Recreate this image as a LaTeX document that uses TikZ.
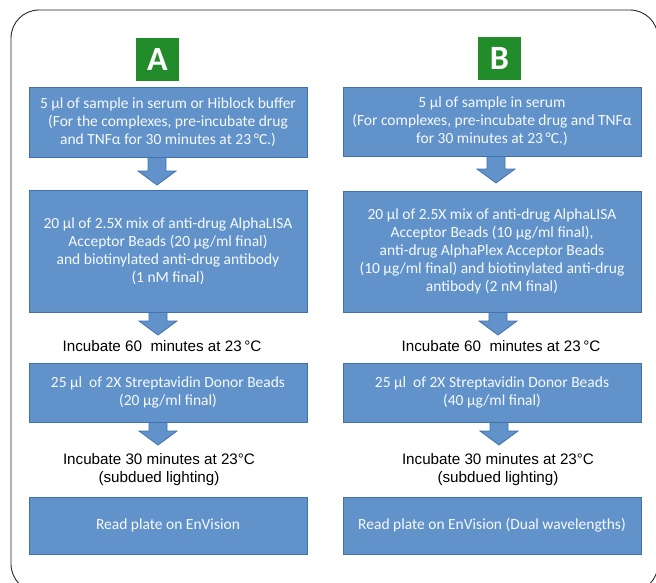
\documentclass[tikz,border=0pt]{standalone}
\usepackage{fontspec}
\setmainfont{Carlito}
\newfontfamily\arialfont{Liberation Sans}
\usetikzlibrary{calc}

\definecolor{stepblue}{RGB}{97,146,202}
\definecolor{stepedge}{RGB}{66,114,172}
\definecolor{labelgreen}{RGB}{34,139,42}

% block arrow from a point on a box to a tip coordinate
\newcommand{\flowarrow}[2]{%
	\draw[flowarrow] let \p1=(#1), \p2=(#2) in
		(\x1-9pt,\y1) -- (\x1+9pt,\y1) -- (\x1+9pt,\y2+14pt) -- (\x1+19pt,\y2+14pt)
		-- (\x2,\y2) -- (\x1-19pt,\y2+14pt) -- (\x1-9pt,\y2+14pt) -- cycle;}

\begin{document}
\begin{tikzpicture}[x=1pt,y=-1pt,
	stepbox/.style={draw=stepedge,line width=1pt,fill=stepblue,text=white!95!stepblue,align=center,
		inner sep=0pt,font=\fontsize{15.5}{18}\selectfont},
	colA/.style={stepbox,minimum width=278pt},
	colB/.style={stepbox,minimum width=298pt},
	letterbox/.style={fill=labelgreen,text=white,minimum width=43pt,minimum height=43pt,
		inner sep=0pt,font=\fontsize{34}{34}\selectfont\bfseries},
	flowarrow/.style={fill=stepblue,draw=stepedge,line width=0.8pt},
	plainstep/.style={align=center,inner sep=0pt,font=\arialfont\fontsize{15.2}{18}\selectfont}]
	\useasboundingbox (0,0) rectangle (656,582);
	\clip (0,0) rectangle (656,582);
	% outer frame
	\draw[black!85,line width=0.9pt,rounded corners=28pt] (11,10) rectangle (658,592);
	% column A
	\node[letterbox] (labA) at (157.5,59.5) {A};
	\node[colA,minimum height=70pt] (boxA1) at (168,122) {5 µl of sample in serum or Hiblock buffer\\(For the complexes, pre-incubate drug\\and TNFα for 30 minutes at 23\,°C.)};
	\node[colA,minimum height=122pt] (boxA2) at (168,251) {20 µl of 2.5X mix of anti-drug AlphaLISA\\Acceptor Beads (20 µg/ml final)\\and biotinylated anti-drug antibody\\(1 nM final)};
	\node[plainstep] (incA1) at (162,346) {Incubate 60 \ minutes at 23\,°C};
	\node[colA,minimum height=59pt] (boxA3) at (168,392.5) {25 µl \ of 2X Streptavidin Donor Beads\\(20 µg/ml final)};
	\node[plainstep] (incA2) at (159,470) {Incubate 30 minutes at 23°C\\(subdued lighting)};
	\node[colA,minimum height=57pt] (boxA4) at (168,525.5) {Read plate on EnVision};
	\coordinate (tipA1) at (157,185);
	\coordinate (tipA2) at (158,335);
	\coordinate (tipA3) at (158,445);
	\flowarrow{boxA1.south -| tipA1}{tipA1}
	\flowarrow{boxA2.south -| tipA2}{tipA2}
	\flowarrow{boxA3.south -| tipA3}{tipA3}
	% column B
	\node[letterbox] (labB) at (499.5,58.5) {B};
	\node[colB,minimum height=69pt] (boxB1) at (492,121.5) {5 µl of sample in serum\\(For complexes, pre-incubate drug and TNFα\\for 30 minutes at 23\,°C.)};
	\node[colB,minimum height=121pt] (boxB2) at (492,251.5) {20 µl of 2.5X mix of anti-drug AlphaLISA\\Acceptor Beads (10 µg/ml final),\\anti-drug AlphaPlex Acceptor Beads\\(10 µg/ml final) and biotinylated anti-drug\\antibody (2 nM final)};
	\node[plainstep] (incB1) at (501,346) {Incubate 60 \ minutes at 23\,°C};
	\node[colB,minimum height=59pt] (boxB3) at (492,392.5) {25 µl \ of 2X Streptavidin Donor Beads\\(40 µg/ml final)};
	\node[plainstep] (incB2) at (498,470) {Incubate 30 minutes at 23°C\\(subdued lighting)};
	\node[colB,minimum height=57pt] (boxB4) at (492,525.5) {Read plate on EnVision (Dual wavelengths)};
	\coordinate (tipB1) at (496,183);
	\coordinate (tipB2) at (498,335);
	\coordinate (tipB3) at (499,445);
	\flowarrow{boxB1.south -| tipB1}{tipB1}
	\flowarrow{boxB2.south -| tipB2}{tipB2}
	\flowarrow{boxB3.south -| tipB3}{tipB3}
\end{tikzpicture}
\end{document}
